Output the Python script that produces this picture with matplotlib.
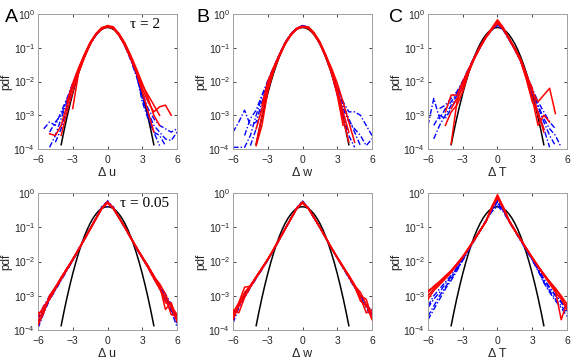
import numpy as np
import matplotlib
matplotlib.use("Agg")
import matplotlib.pyplot as plt
from matplotlib.ticker import LogLocator, NullLocator

plt.rcParams['font.family'] = ['Liberation Sans', 'DejaVu Sans']
plt.rcParams['mathtext.fontset'] = 'custom'
plt.rcParams['mathtext.rm'] = 'Liberation Sans'
plt.rcParams['mathtext.it'] = 'Liberation Sans:italic'

N = np.nan

# common grid of increments (normalised)
xg = [-6, -5.5, -5, -4.5, -4, -3.5, -3, -2.5, -2, -1.5, -1, -0.5, 0,
      0.5, 1, 1.5, 2, 2.5, 3, 3.5, 4, 4.5, 5, 5.5, 6]

# reference gaussian
xgauss = [-4, -3.75, -3.5, -3.25, -3, -2.75, -2.5, -2.25, -2, -1.75, -1.5, -1.25, -1,
          -0.75, -0.5, -0.25, 0, 0.25, 0.5, 0.75, 1, 1.25, 1.5, 1.75, 2, 2.25, 2.5,
          2.75, 3, 3.25, 3.5, 3.75, 4]
pgauss = [0.000134, 0.000353, 0.000873, 0.00203, 0.00443, 0.00909, 0.0175, 0.0317,
          0.054, 0.0863, 0.1295, 0.1826, 0.242, 0.3011, 0.3521, 0.3867, 0.3989,
          0.3867, 0.3521, 0.3011, 0.242, 0.1826, 0.1295, 0.0863, 0.054, 0.0317,
          0.0175, 0.00909, 0.00443, 0.00203, 0.000873, 0.000353, 0.000134]

# log10(pdf), tau = 2
u_red_2 = [
    [N, N, N, N, N, N, -2.8, -1.75, -1.3, -0.9, -0.62, -0.45, -0.38, -0.42, -0.62, -0.92, -1.3, -1.7, -2.2, -2.6, -2.9, -2.75, -2.7, -3.0, N],
    [N, N, -3.55, -3.6, -3.3, -2.7, -2.15, -1.65, -1.22, -0.86, -0.6, -0.43, -0.36, -0.4, -0.58, -0.86, -1.22, -1.62, -2.05, -2.5, -3.0, -3.3, N, N, N],
    [N, N, N, N, -3.6, -2.9, -2.3, -1.72, -1.28, -0.9, -0.6, -0.42, -0.34, -0.38, -0.6, -0.9, -1.3, -1.75, -2.3, -2.9, -3.5, N, N, N, N],
    [N, N, N, N, N, -2.6, -2.05, -1.6, -1.2, -0.84, -0.58, -0.4, -0.37, -0.43, -0.64, -0.94, -1.32, -1.7, -2.1, -2.4, -2.7, -3.0, N, N, N],
]
u_blue_2 = [
    [N, -3.4, -3.2, -3.3, -2.9, -2.5, -2.05, -1.62, -1.22, -0.85, -0.6, -0.42, -0.35, -0.4, -0.6, -0.9, -1.3, -1.75, -2.3, -2.8, -3.1, -3.3, -3.4, -3.5, -3.4],
    [N, N, -3.95, -3.6, -3.1, -2.6, -2.1, -1.66, -1.25, -0.88, -0.62, -0.44, -0.36, -0.41, -0.62, -0.93, -1.33, -1.8, -2.5, -3.0, -3.5, -3.6, -3.9, N, N],
    [N, N, N, -3.8, -3.4, -2.8, -2.25, -1.7, -1.28, -0.9, -0.63, -0.44, -0.37, -0.42, -0.64, -0.95, -1.36, -1.85, -2.4, -2.9, -3.3, -3.5, -3.7, -3.75, -3.5],
    [N, N, -3.5, -3.2, -3.0, -2.55, -2.08, -1.64, -1.24, -0.87, -0.61, -0.43, -0.36, -0.41, -0.61, -0.92, -1.32, -1.78, -2.6, -3.1, -3.5, -3.9, N, N, N],
]
w_red_2 = [
    [N, N, N, N, -3.85, -3.0, -2.1, -1.62, -1.22, -0.85, -0.6, -0.43, -0.37, -0.38, -0.55, -0.82, -1.2, -1.7, -2.3, -3.1, -3.8, N, N, N, N],
    [N, N, N, N, N, -2.7, -2.0, -1.58, -1.2, -0.86, -0.6, -0.42, -0.36, -0.4, -0.58, -0.86, -1.25, -1.65, -2.2, -2.9, -3.5, N, N, N, N],
    [N, N, N, N, -3.4, -2.8, -2.2, -1.68, -1.25, -0.88, -0.62, -0.44, -0.38, -0.41, -0.6, -0.88, -1.28, -1.75, -2.4, -3.3, N, N, N, N, N],
    [N, N, N, N, -3.9, -3.3, -2.3, -1.7, -1.26, -0.9, -0.63, -0.45, -0.39, -0.42, -0.6, -0.86, -1.22, -1.6, -2.05, -2.6, -3.2, -3.8, N, N, N],
]
w_blue_2 = [
    [-3.5, -3.2, -2.85, -3.3, -3.2, -2.6, -2.05, -1.6, -1.2, -0.84, -0.58, -0.42, -0.34, -0.38, -0.56, -0.84, -1.22, -1.66, -2.2, -2.6, -2.9, -2.9, -3.0, -3.3, -3.6],
    [-3.95, -3.95, -3.95, -3.6, -3.0, -2.45, -1.98, -1.58, -1.2, -0.85, -0.59, -0.42, -0.35, -0.39, -0.57, -0.86, -1.25, -1.72, -2.3, -2.8, -3.2, -3.4, -3.6, -3.9, -3.7],
    [N, N, -3.6, -3.1, -2.85, -2.4, -2.0, -1.6, -1.22, -0.86, -0.6, -0.43, -0.36, -0.4, -0.58, -0.86, -1.24, -1.68, -2.15, -2.7, -3.1, -3.5, -3.9, N, N],
    [N, N, N, -3.9, -3.4, -2.75, -2.1, -1.64, -1.24, -0.88, -0.61, -0.44, -0.36, -0.4, -0.59, -0.88, -1.27, -1.76, -2.4, -3.0, -3.6, -3.95, N, N, N],
]
T_red_2 = [
    [N, N, N, -2.9, -2.4, -2.4, -2.0, -1.64, -1.28, -0.95, -0.66, -0.42, -0.17, -0.4, -0.72, -1.02, -1.34, -1.8, -2.3, -2.6, -2.4, -2.2, -2.95, N, N],
    [N, N, N, N, -3.85, -2.6, -2.1, -1.66, -1.3, -0.97, -0.68, -0.44, -0.22, -0.42, -0.74, -1.04, -1.38, -1.9, -2.5, -3.3, -3.0, -3.2, N, N, N],
    [N, N, N, N, -2.8, -2.5, -2.2, -1.68, -1.31, -0.98, -0.69, -0.46, -0.25, -0.44, -0.72, -1.01, -1.34, -1.8, -2.2, -3.0, -3.4, N, N, N, N],
    [N, N, N, -3.3, -2.9, -2.7, -2.3, -1.74, -1.33, -1.0, -0.7, -0.47, -0.28, -0.46, -0.75, -1.06, -1.4, -1.95, -2.6, -2.9, -3.5, N, N, N, N],
]
T_blue_2 = [
    [-3.3, -2.5, -3.1, -2.8, -2.6, -2.35, -2.0, -1.64, -1.28, -0.96, -0.67, -0.45, -0.3, -0.45, -0.73, -1.03, -1.36, -1.8, -2.3, -2.7, -3.1, -3.4, -3.6, -3.95, N],
    [N, -3.7, -3.3, -3.0, -2.7, -2.4, -2.06, -1.68, -1.3, -0.98, -0.69, -0.47, -0.32, -0.47, -0.75, -1.05, -1.38, -1.8, -2.2, -2.6, -2.9, -3.2, -3.4, N, N],
    [N, N, -2.8, -2.7, -2.5, -2.3, -1.98, -1.62, -1.27, -0.95, -0.66, -0.44, -0.28, -0.44, -0.72, -1.02, -1.34, -1.84, -2.3, -2.75, -3.2, -3.6, -3.9, N, N],
    [N, -3.3, -3.0, -3.1, -2.8, -2.5, -2.1, -1.7, -1.32, -0.99, -0.7, -0.48, -0.33, -0.48, -0.77, -1.07, -1.41, -1.88, -2.4, -2.9, -3.4, -3.95, N, N, N],
]

# log10(pdf), tau = 0.05
u_red_005 = [
    [-3.5, -3.45, -3.0, -2.75, -2.48, -2.2, -1.93, -1.64, -1.34, -1.04, -0.74, -0.45, -0.28, -0.44, -0.71, -0.99, -1.28, -1.58, -1.86, -2.12, -2.42, -2.7, -3.4, -3.2, -3.7],
    [-3.75, -3.4, -3.1, -2.8, -2.52, -2.24, -1.96, -1.66, -1.36, -1.06, -0.76, -0.46, -0.3, -0.46, -0.73, -1.01, -1.31, -1.61, -1.9, -2.18, -2.5, -2.8, -3.05, -3.55, -3.6],
    [-3.6, -3.3, -3.1, -2.8, -2.5, -2.22, -1.94, -1.65, -1.35, -1.05, -0.75, -0.44, -0.25, -0.43, -0.72, -1.0, -1.3, -1.6, -1.87, -2.16, -2.44, -2.65, -2.95, -3.35, -3.75],
    [-3.85, -3.5, -3.0, -2.76, -2.46, -2.2, -1.95, -1.66, -1.36, -1.06, -0.76, -0.46, -0.27, -0.45, -0.73, -1.01, -1.31, -1.6, -1.89, -2.15, -2.46, -2.75, -3.2, -3.3, -3.55],
]
u_blue_005 = [
    [-3.8, -3.4, -3.05, -2.8, -2.5, -2.22, -1.95, -1.65, -1.35, -1.04, -0.74, -0.44, -0.22, -0.44, -0.72, -1.0, -1.3, -1.6, -1.88, -2.15, -2.45, -2.72, -3.0, -3.35, -3.7],
    [-3.9, -3.45, -3.1, -2.82, -2.54, -2.25, -1.98, -1.67, -1.37, -1.06, -0.76, -0.4, -0.4, -0.4, -0.74, -1.02, -1.32, -1.62, -1.9, -2.18, -2.48, -2.76, -3.05, -3.4, -3.8],
    [-3.7, -3.3, -3.0, -2.75, -2.47, -2.2, -1.93, -1.63, -1.33, -1.03, -0.73, -0.43, -0.24, -0.43, -0.71, -0.99, -1.29, -1.59, -1.86, -2.13, -2.42, -2.68, -2.95, -3.25, -3.6],
    [-3.95, -3.5, -3.12, -2.84, -2.55, -2.26, -1.97, -1.66, -1.36, -1.05, -0.75, -0.45, -0.26, -0.45, -0.73, -1.01, -1.31, -1.62, -1.9, -2.18, -2.5, -2.8, -3.1, -3.45, -3.9],
]
w_red_005 = [
    [-3.5, -3.2, -2.75, -2.72, -2.45, -2.2, -1.94, -1.65, -1.35, -1.05, -0.75, -0.46, -0.28, -0.45, -0.72, -1.0, -1.3, -1.6, -1.88, -2.14, -2.4, -2.68, -3.0, -3.1, -3.65],
    [-3.7, -3.3, -3.0, -2.72, -2.46, -2.2, -1.94, -1.65, -1.35, -1.05, -0.75, -0.45, -0.3, -0.45, -0.72, -1.0, -1.3, -1.6, -1.88, -2.16, -2.45, -2.74, -3.05, -3.5, -3.4],
    [-3.4, -3.5, -3.05, -2.75, -2.48, -2.22, -1.95, -1.66, -1.36, -1.06, -0.76, -0.45, -0.25, -0.44, -0.73, -1.01, -1.31, -1.61, -1.9, -2.18, -2.42, -2.7, -2.9, -3.25, -3.7],
    [-3.6, -3.25, -2.9, -2.7, -2.44, -2.18, -1.93, -1.64, -1.34, -1.04, -0.74, -0.44, -0.27, -0.44, -0.72, -1.0, -1.3, -1.6, -1.88, -2.15, -2.44, -2.72, -3.15, -3.3, -3.5],
]
w_blue_005 = [
    [-3.55, -3.25, -2.95, -2.7, -2.45, -2.2, -1.94, -1.65, -1.35, -1.04, -0.74, -0.44, -0.23, -0.44, -0.72, -1.0, -1.3, -1.6, -1.88, -2.15, -2.43, -2.7, -2.98, -3.25, -3.45],
    [-3.7, -3.3, -3.0, -2.73, -2.47, -2.22, -1.96, -1.66, -1.36, -1.05, -0.75, -0.42, -0.26, -0.42, -0.73, -1.01, -1.31, -1.61, -1.89, -2.17, -2.46, -2.74, -3.02, -3.3, -3.55],
    [-3.8, -3.35, -3.05, -2.77, -2.5, -2.24, -1.97, -1.67, -1.37, -1.06, -0.76, -0.46, -0.24, -0.46, -0.74, -1.02, -1.32, -1.62, -1.9, -2.19, -2.48, -2.77, -3.05, -3.35, -3.65],
    [-3.6, -3.28, -2.98, -2.72, -2.46, -2.21, -1.95, -1.65, -1.35, -1.05, -0.74, -0.44, -0.28, -0.44, -0.72, -1.0, -1.3, -1.6, -1.88, -2.16, -2.45, -2.73, -3.0, -3.28, -3.5],
]
T_red_005 = [
    [-2.85, -2.75, -2.6, -2.45, -2.28, -2.08, -1.87, -1.62, -1.36, -1.1, -0.84, -0.45, -0.05, -0.45, -0.82, -1.1, -1.36, -1.63, -1.9, -2.15, -2.38, -2.58, -2.78, -3.0, -3.25],
    [-3.0, -2.8, -2.65, -2.48, -2.3, -2.1, -1.88, -1.63, -1.37, -1.1, -0.83, -0.42, -0.1, -0.42, -0.8, -1.08, -1.35, -1.62, -1.88, -2.13, -2.36, -2.6, -2.85, -3.7, -3.2],
    [-2.9, -2.72, -2.58, -2.42, -2.26, -2.06, -1.85, -1.6, -1.35, -1.09, -0.82, -0.4, -0.08, -0.4, -0.8, -1.09, -1.36, -1.62, -1.88, -2.14, -2.4, -2.62, -2.8, -3.05, -3.35],
    [-3.1, -2.85, -2.68, -2.5, -2.32, -2.1, -1.88, -1.63, -1.37, -1.1, -0.84, -0.46, -0.15, -0.46, -0.83, -1.1, -1.37, -1.64, -1.9, -2.16, -2.4, -2.65, -2.9, -3.1, -3.4],
]
T_blue_005 = [
    [-3.35, -3.1, -2.9, -2.65, -2.45, -2.2, -1.9, -1.63, -1.36, -1.08, -0.8, -0.5, -0.25, -0.5, -0.8, -1.08, -1.36, -1.63, -1.9, -2.18, -2.55, -2.78, -3.0, -3.15, -3.4],
    [-3.6, -3.3, -3.0, -2.75, -2.5, -2.24, -1.95, -1.66, -1.38, -1.1, -0.82, -0.48, -0.3, -0.48, -0.82, -1.1, -1.38, -1.66, -1.95, -2.25, -2.6, -2.85, -3.1, -3.3, -3.5],
    [-3.3, -3.0, -2.8, -2.6, -2.4, -2.18, -1.92, -1.65, -1.37, -1.09, -0.81, -0.52, -0.22, -0.52, -0.8, -1.09, -1.37, -1.64, -1.92, -2.2, -2.5, -2.75, -2.98, -3.2, -3.45],
    [-3.7, -3.4, -3.1, -2.8, -2.55, -2.27, -1.97, -1.68, -1.39, -1.11, -0.83, -0.55, -0.38, -0.55, -0.84, -1.12, -1.4, -1.68, -1.96, -2.27, -2.62, -2.9, -3.15, -3.35, -3.6],
]

xlabels = ['Δ u', 'Δ w', 'Δ T']
letters = ['A', 'B', 'C']
tau_labels = ['τ = 2', 'τ = 0.05']
panels = [[(u_red_2, u_blue_2), (w_red_2, w_blue_2), (T_red_2, T_blue_2)],
          [(u_red_005, u_blue_005), (w_red_005, w_blue_005), (T_red_005, T_blue_005)]]

fig = plt.figure(figsize=(5.85, 3.6), dpi=100)
lefts = [38/585, 233/585, 428/585]
bottoms = [1 - 149/360, 1 - 330/360]
w = 139/585
hs = [135/360, 137/360]
letter_x = [5/585, 196/585, 389/585]

for r in range(2):
    for c in range(3):
        ax = fig.add_axes([lefts[c], bottoms[r], w, hs[r]])
        reds, blues = panels[r][c]
        ax.plot(xgauss, pgauss, color='k', lw=1.1, zorder=1)
        for b in blues:
            ax.plot(xg, 10**np.array(b), color='#0000ff', ls=(0, (4, 1.5, 1, 1.5)), lw=1.0, zorder=2)
        for rr in reds:
            ax.plot(xg, 10**np.array(rr), color='#ff0000', ls='-', lw=1.1, zorder=3)
        ax.set_yscale('log')
        ax.set_xlim(-6, 6)
        ax.set_ylim(1e-4, 1)
        ax.set_xticks([-6, -3, 0, 3, 6])
        ax.yaxis.set_major_locator(LogLocator(base=10, numticks=6))
        ax.yaxis.set_minor_locator(NullLocator())
        ax.tick_params(direction='in', length=2.5, width=0.6, top=True, right=True,
                       labelsize=7.5, colors='#262626')
        ax.tick_params(axis='x', pad=4)
        ax.tick_params(axis='y', pad=2)
        for s in ax.spines.values():
            s.set_color('#a0a0a0')
            s.set_linewidth(0.7)
        ax.set_xlabel(xlabels[c], fontsize=9, color='#262626', labelpad=2)
        ax.set_ylabel('pdf', fontsize=8.5, color='#262626', labelpad=1)
        if r == 0:
            fig.text(letter_x[c], 1 - 9/360, letters[c], fontsize=14, ha='left', va='top')
        if c == 0:
            ax.text([0.66, 0.59][r], 0.925, tau_labels[r], transform=ax.transAxes,
                    fontsize=11, family=['Liberation Serif', 'DejaVu Serif'], va='center')

fig.savefig('out.png', dpi=100)
